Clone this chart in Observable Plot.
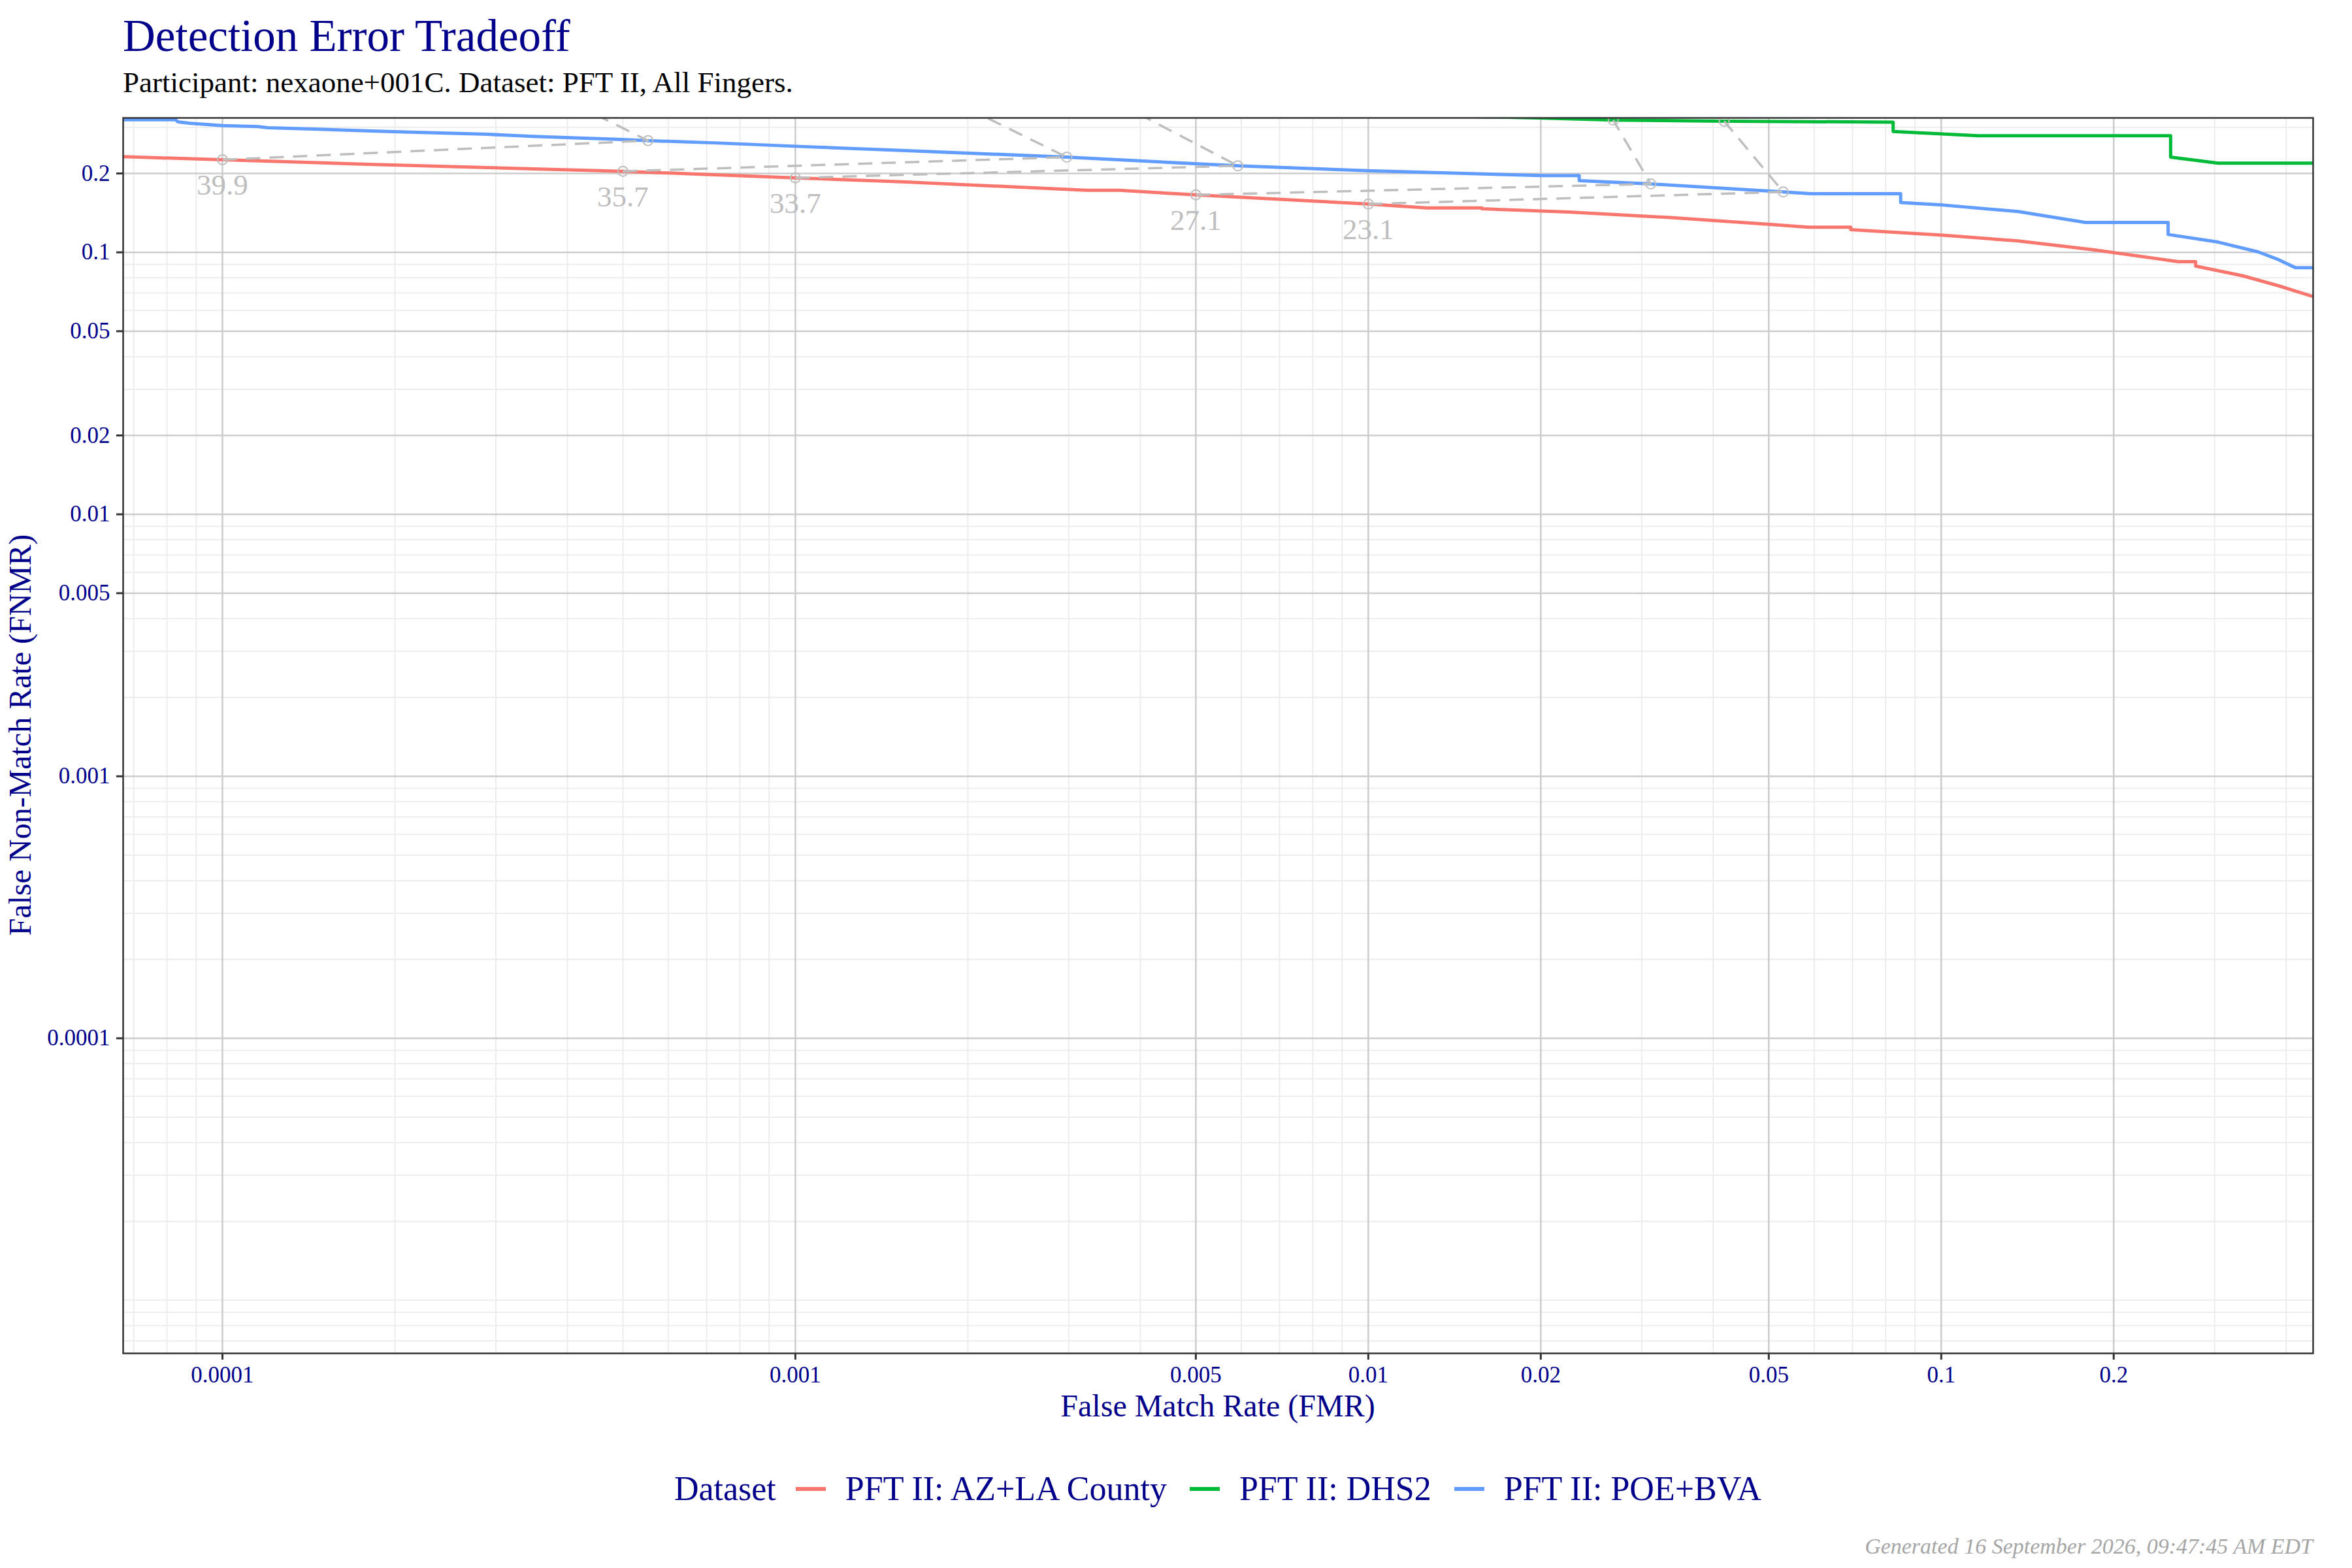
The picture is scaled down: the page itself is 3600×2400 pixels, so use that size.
<!DOCTYPE html>
<html>
<head>
<meta charset="utf-8">
<script src="https://cdn.jsdelivr.net/npm/d3@7"></script>
<script src="https://cdn.jsdelivr.net/npm/@observablehq/plot@0.6"></script>
<style>
html, body { margin: 0; padding: 0; background: #fff; }
#page { position: relative; width: 3600px; height: 2400px; background: #fff; font-family: "Liberation Serif", serif; overflow: hidden; }
#chart { position: absolute; left: 0; top: 0; }
.t { position: absolute; white-space: nowrap; line-height: 1; }
#legend { position: absolute; left: 188px; width: 3352px; top: 2253px; height: 52px; display: flex; justify-content: center; align-items: center; font-size: 52px; line-height: 1; color: #00008b; white-space: nowrap; }
#legend .key { display: inline-block; width: 46px; height: 6.5px; margin-right: 30px; }
#legend .lab { margin-right: 35px; }
#legend .lab:last-child { margin-right: 0; }
</style>
</head>
<body>
<div id="page">
  <div id="chart"></div>
  <div class="t" style="left:188px;top:21px;font-size:69px;color:#00008b;">Detection Error Tradeoff</div>
  <div class="t" style="left:188px;top:104px;font-size:45px;color:#000;">Participant: nexaone+001C. Dataset: PFT II, All Fingers.</div>
  <div class="t" style="left:1364px;width:1000px;text-align:center;top:2128px;font-size:48px;color:#00008b;">False Match Rate (FMR)</div>
  <div class="t" style="left:-469px;width:1000px;text-align:center;top:1101px;height:48px;font-size:48px;color:#00008b;transform:rotate(-90deg);transform-origin:50% 50%;">False Non-Match Rate (FNMR)</div>
  <div id="legend"></div>
  <div class="t" style="right:60px;top:2350px;font-size:34px;font-style:italic;color:#a6a6a6;">Generated 16 September 2026, 09:47:45 AM EDT</div>
</div>
<script>
// ---- Data ----
const datasets = ["PFT II: AZ+LA County", "PFT II: DHS2", "PFT II: POE+BVA"];
const colors = ["#F8766D", "#00BA38", "#619CFF"];

// PFT II: AZ+LA County (red)
const azFMR  = [6.71e-5, 1e-4, 1.794e-4, 5e-4, 1e-3, 1.534e-3, 3.227e-3, 3.677e-3, 5e-3, 0.01, 0.01265, 0.01578, 0.01578, 0.02233, 0.03338, 0.04989, 0.05859, 0.0695, 0.0695, 0.1008, 0.1362, 0.1842, 0.2591, 0.278, 0.278, 0.3364, 0.3873, 0.4457];
const azFNMR = [0.2318, 0.2256, 0.2168, 0.2038, 0.1924, 0.1860, 0.1725, 0.1725, 0.1657, 0.1529, 0.1477, 0.1477, 0.1466, 0.1425, 0.1359, 0.1280, 0.1247, 0.1247, 0.1220, 0.1163, 0.1105, 0.1023, 0.0921, 0.0921, 0.0886, 0.0813, 0.0746, 0.0678];

// PFT II: DHS2 (green)
const dhsFMR  = [6.71e-5, 1e-4, 4.0e-4, 1.97e-3, 3.85e-3, 0.0197, 0.02676, 0.0418, 0.08243, 0.08243, 0.116, 0.2514, 0.2514, 0.3043, 0.4457];
const dhsFNMR = [0.42, 0.41, 0.38, 0.36, 0.35, 0.326, 0.3197, 0.3166, 0.3140, 0.2893, 0.2785, 0.2785, 0.2308, 0.2189, 0.2189];

// PFT II: POE+BVA (blue)
const poeFMR  = [6.71e-5, 8.28e-5, 8.36e-5, 8.79e-5, 1e-4, 1.153e-4, 1.20e-4, 1.467e-4, 1.984e-4, 2.905e-4, 3.48e-4, 4.90e-4, 5.53e-4, 7.32e-4, 1e-3, 1.534e-3, 2.977e-3, 5.92e-3, 9.94e-3, 0.02009, 0.02334, 0.02334, 0.03112, 0.053, 0.05918, 0.08495, 0.08495, 0.1008, 0.1362, 0.1786, 0.2489, 0.2489, 0.3043, 0.3573, 0.3873, 0.4155, 0.4457];
const poeFNMR = [0.3208, 0.3208, 0.3148, 0.3107, 0.3047, 0.3019, 0.2990, 0.2950, 0.2888, 0.2822, 0.2769, 0.2700, 0.2669, 0.2614, 0.2540, 0.2450, 0.2308, 0.2139, 0.2049, 0.1962, 0.1962, 0.1877, 0.1824, 0.1700, 0.1674, 0.1674, 0.1550, 0.1515, 0.1431, 0.1300, 0.1300, 0.1170, 0.1094, 0.1004, 0.0939, 0.0873, 0.0873];

// Threshold markers
const thresholds = ["39.9", "35.7", "33.7", "27.1", "23.1"];
const azPtFMR   = [1e-4, 5e-4, 1e-3, 5e-3, 1e-2];
const azPtFNMR  = [0.2256, 0.2038, 0.1924, 0.1657, 0.1529];
const poePtFMR  = [5.53e-4, 2.977e-3, 5.92e-3, 0.03112, 0.0530];
const poePtFNMR = [0.2669, 0.2308, 0.2139, 0.1824, 0.1700];
const dhsPtFMR  = [4.0e-4, 1.97e-3, 3.85e-3, 0.02676, 0.0418];
const dhsPtFNMR = [0.38, 0.36, 0.35, 0.3197, 0.3166];

// Axis ticks and grid
const xMajor = [0.0001, 0.001, 0.005, 0.01, 0.02, 0.05, 0.1, 0.2];
const xMinor = [0.00007, 0.00008, 0.00009, 0.0002, 0.0003, 0.0004, 0.0005, 0.0006, 0.0007, 0.0008, 0.0009,
                0.002, 0.003, 0.004, 0.006, 0.007, 0.008, 0.009, 0.03, 0.04, 0.06, 0.07, 0.08, 0.09, 0.3, 0.4];
const yMajor = [0.2, 0.1, 0.05, 0.02, 0.01, 0.005, 0.001, 0.0001];
const yMinor = [0.3, 0.09, 0.08, 0.07, 0.06, 0.04, 0.03, 0.009, 0.008, 0.007, 0.006, 0.004, 0.003, 0.002,
                0.0009, 0.0008, 0.0007, 0.0006, 0.0005, 0.0004, 0.0003, 0.0002,
                0.00009, 0.00008, 0.00007, 0.00006, 0.00005, 0.00004, 0.00003, 0.00002,
                0.00001, 0.000009, 0.000008, 0.000007];

// ---- Tables ----
const curveRows = [];
[[azFMR, azFNMR], [dhsFMR, dhsFNMR], [poeFMR, poeFNMR]].forEach(([xs, ys], i) => {
  xs.forEach((x, j) => curveRows.push({dataset: datasets[i], fmr: x, fnmr: ys[j]}));
});
const threshRows = [];
thresholds.forEach((t, i) => {
  threshRows.push({threshold: t, fmr: azPtFMR[i], fnmr: azPtFNMR[i]});
  threshRows.push({threshold: t, fmr: poePtFMR[i], fnmr: poePtFNMR[i]});
  threshRows.push({threshold: t, fmr: dhsPtFMR[i], fnmr: dhsPtFNMR[i]});
});
const labelRows = thresholds.map((t, i) => ({threshold: t, fmr: azPtFMR[i], fnmr: azPtFNMR[i]}));

const plot = Plot.plot({
  width: 3600,
  height: 2400,
  marginLeft: 188,
  marginRight: 60,
  marginTop: 180,
  marginBottom: 329,
  style: {fontFamily: '"Liberation Serif", serif', fontSize: "35px", background: "transparent"},
  x: {type: "log", domain: [Math.pow(10, -4.1733), Math.pow(10, -0.3509)]},
  y: {type: "log", domain: [Math.pow(10, -5.2027), Math.pow(10, -0.487)]},
  color: {domain: datasets, range: colors},
  marks: [
    Plot.ruleX(xMinor, {stroke: "#ebebeb", strokeWidth: 1.8}),
    Plot.ruleY(yMinor, {stroke: "#ebebeb", strokeWidth: 1.8}),
    Plot.ruleX(xMajor, {stroke: "#cccccc", strokeWidth: 2.5}),
    Plot.ruleY(yMajor, {stroke: "#cccccc", strokeWidth: 2.5}),
    Plot.line(curveRows, {x: "fmr", y: "fnmr", z: "dataset", stroke: "dataset", strokeWidth: 5, strokeLinejoin: "round", strokeLinecap: "butt", clip: true}),
    Plot.line(threshRows, {x: "fmr", y: "fnmr", z: "threshold", stroke: "#bebebe", strokeWidth: 3.5, strokeDasharray: "22,14", strokeLinecap: "butt", clip: true}),
    Plot.dot(threshRows, {x: "fmr", y: "fnmr", r: 7.5, stroke: "#bebebe", strokeWidth: 2, fill: "none", clip: true}),
    Plot.text(labelRows, {x: "fmr", y: "fnmr", text: "threshold", dy: 39, fill: "#bebebe", fontSize: 45}),
    Plot.frame({stroke: "#333333", strokeWidth: 2.5}),
    Plot.axisX(xMajor, {tickFormat: d => String(d), tickSize: 10, tickPadding: 10, stroke: "#333333", strokeWidth: 3, fill: "#00008b", fontSize: 35, label: null}),
    Plot.axisY(yMajor, {tickFormat: d => String(d), tickSize: 10, tickPadding: 10, stroke: "#333333", strokeWidth: 3, fill: "#00008b", fontSize: 35, label: null})
  ]
});
document.getElementById("chart").appendChild(plot);

// Legend
const legend = document.getElementById("legend");
const head = document.createElement("span");
head.textContent = "Dataset";
head.style.marginRight = "30px";
legend.appendChild(head);
datasets.forEach((d, i) => {
  const k = document.createElement("span");
  k.className = "key";
  k.style.background = colors[i];
  legend.appendChild(k);
  const l = document.createElement("span");
  l.className = "lab";
  l.textContent = d;
  legend.appendChild(l);
});
</script>
</body>
</html>
